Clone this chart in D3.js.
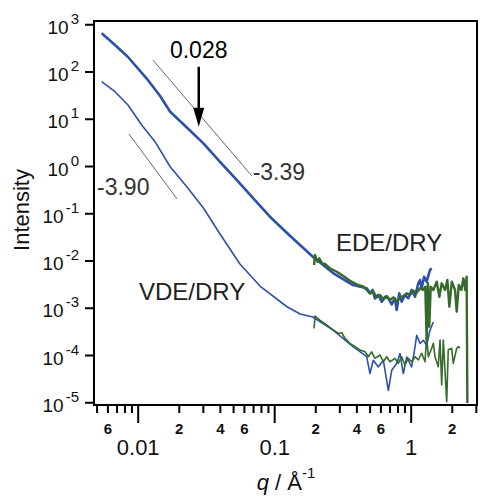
<!DOCTYPE html>
<html>
<head>
<meta charset="utf-8">
<script src="https://cdn.jsdelivr.net/npm/d3@7"></script>
<style>
  body { margin: 0; background: #fff; }
  svg text { font-family: Arial, "Liberation Sans", sans-serif; }
</style>
</head>
<body>
<div id="chart"></div>
<script>
// EDE/DRY, SAXS (blue) and USAXS/WAXS (green)
var edeSaxsQ = [0.00545, 0.00682, 0.00849, 0.0116, 0.0146, 0.0173, 0.0229, 0.0303, 0.0401, 0.0531,
  0.0703, 0.0931, 0.131, 0.192, 0.270, 0.378, 0.476, 0.503, 0.526, 0.547, 0.579, 0.614, 0.649, 0.686,
  0.726, 0.768, 0.789, 0.825, 0.859, 0.908, 0.960, 1.016, 1.076, 1.137, 1.170, 1.204, 1.253, 1.309,
  1.384, 1.425];
var edeSaxsI = [643, 364, 203, 71.8, 30.3, 14.1, 6.53, 3.02, 1.23, 0.506,
  0.207, 0.0845, 0.0330, 0.0120, 0.00543, 0.00303, 0.00258, 0.00202, 0.00238, 0.00158, 0.00186, 0.00134,
  0.00171, 0.00158, 0.00118, 0.00158, 0.000896, 0.00202, 0.00134, 0.00186, 0.00158, 0.00238, 0.00171,
  0.00329, 0.00387, 0.00258, 0.00454, 0.00356, 0.00629, 0.00684];

var edeWideQ = [0.196, 0.199, 0.207, 0.214, 0.224, 0.236, 0.256, 0.287, 0.321, 0.359, 0.402, 0.450,
  0.476, 0.503, 0.532, 0.564, 0.596, 0.630, 0.667, 0.705, 0.746, 0.789, 0.835, 0.883, 0.935, 0.988,
  1.045, 1.106, 1.170, 1.237, 1.279, 1.309, 1.337, 1.368, 1.402, 1.466, 1.552, 1.622, 1.687, 1.786,
  1.857, 1.919, 2.000, 2.113, 2.173, 2.249, 2.350, 2.432, 2.512, 2.570, 2.600];
var edeWideI = [8.03e-3, 1.31e-2, 9.44e-3, 1.11e-2, 8.73e-3, 8.43e-3, 6.84e-3, 5.79e-3, 4.70e-3, 3.73e-3,
  3.13e-3, 2.79e-3, 2.38e-3, 2.02e-3, 2.19e-3, 1.66e-3, 1.86e-3, 1.51e-3, 1.77e-3, 1.46e-3, 1.66e-3,
  1.34e-3, 1.66e-3, 1.77e-3, 2.02e-3, 1.86e-3, 2.30e-3, 2.08e-3, 2.58e-3, 2.38e-3, 2.79e-3, 2.08e-4,
  3.29e-3, 3.97e-4, 2.79e-3, 2.38e-3, 3.56e-3, 1.71e-3, 3.29e-3, 2.38e-3, 3.87e-3, 1.05e-3, 3.56e-3,
  2.38e-3, 8.24e-4, 3.03e-3, 2.38e-3, 4.20e-3, 2.38e-3, 4.54e-3, 9.6e-6];

// VDE/DRY
var vdeSaxsQ = [0.00545, 0.00682, 0.00849, 0.0107, 0.0134, 0.0173, 0.0229, 0.0303, 0.0401, 0.0561,
  0.0787, 0.124, 0.155, 0.192, 0.270, 0.378, 0.476, 0.503, 0.532, 0.579, 0.630, 0.686, 0.726, 0.789,
  0.835, 0.883, 0.935, 1.016, 1.076, 1.106, 1.170, 1.237, 1.309, 1.384, 1.466];
var vdeSaxsI = [60.8, 37.4, 19.5, 7.38, 3.27, 0.966, 0.365, 0.129, 0.0364, 0.00843,
  0.00288, 0.00105, 7.38e-4, 6.37e-4, 3.38e-4, 1.50e-4, 9.20e-5, 4.05e-5, 7.74e-5, 5.58e-5, 7.74e-5,
  1.79e-5, 4.75e-5, 6.59e-5, 1.07e-4, 4.05e-5, 9.10e-5, 5.58e-5, 1.48e-4, 2.62e-4, 1.75e-4, 2.05e-4,
  1.61e-4, 3.34e-4, 5.01e-4];

var vdeWideQ = [0.196, 0.199, 0.216, 0.242, 0.271, 0.295, 0.313, 0.330, 0.359, 0.391, 0.425, 0.463,
  0.489, 0.518, 0.547, 0.596, 0.630, 0.667, 0.705, 0.767, 0.811, 0.859, 0.908, 0.960, 1.017, 1.076,
  1.137, 1.204, 1.273, 1.309, 1.346, 1.425, 1.466, 1.506, 1.549, 1.592, 1.640, 1.687, 1.734, 1.836,
  1.884, 1.995, 2.051, 2.173, 2.234, 2.297];
var vdeWideI = [3.67e-4, 6.68e-4, 5.50e-4, 4.32e-4, 3.38e-4, 2.88e-4, 2.96e-4, 2.25e-4, 1.77e-4, 1.50e-4,
  1.28e-4, 1.17e-4, 9.20e-5, 1.17e-4, 8.51e-5, 1.00e-4, 7.21e-5, 9.20e-5, 7.21e-5, 8.51e-5, 6.67e-5,
  9.20e-5, 6.14e-5, 8.51e-5, 7.21e-5, 9.20e-5, 7.84e-5, 1.09e-4, 7.21e-5, 2.44e-4, 9.20e-5, 1.39e-4,
  1.77e-4, 9.20e-5, 7.21e-5, 5.65e-5, 2.08e-4, 2.32e-5, 2.08e-4, 1.03e-5, 1.28e-4, 1.39e-4, 6.67e-5,
  1.39e-4, 1.50e-4, 1.39e-4];

// power-law guide lines
var guideSlopes = [-3.39, -3.90];
var guideStartQ = [0.01294, 0.00863];
var guideStartI = [175, 4.76];
var guideEndQ = [0.0684, 0.0194];
var guideLabels = ["-3.39", "-3.90"];

// peak marker
var peakQ = 0.028;
var peakArrowI = [126, 6.8];

// axes
var yTickValues = [1e-5, 1e-4, 1e-3, 1e-2, 1e-1, 1, 10, 100, 1000];
var yTickExponents = ["-5", "-4", "-3", "-2", "-1", "0", "1", "2", "3"];
var xMajorTicks = [0.01, 0.1, 1];
var xMajorLabels = ["0.01", "0.1", "1"];
var xMinorTicks = [0.005, 0.006, 0.007, 0.008, 0.009, 0.02, 0.03, 0.04, 0.05, 0.06, 0.07, 0.08, 0.09,
  0.2, 0.3, 0.4, 0.5, 0.6, 0.7, 0.8, 0.9, 2, 3];
var xMinorLabels = { 0.006: "6", 0.02: "2", 0.04: "4", 0.06: "6", 0.2: "2", 0.4: "4", 0.6: "6", 2: "2" };

var width = 480,
  height = 500;
var plotLeft = 94,
  plotRight = 477,
  plotTop = 21,
  plotBottom = 405;

var svg = d3
  .select("#chart")
  .append("svg")
  .attr("width", width)
  .attr("height", height);

var x = d3.scaleLog().domain([0.004786, 3.06]).range([plotLeft, plotRight]);
var y = d3.scaleLog().domain([8.75e-6, 1172]).range([plotBottom, plotTop]);

function pairs(qs, is) {
  return qs.map(function(q, i) {
    return [q, is[i]];
  });
}

svg
  .append("clipPath")
  .attr("id", "plot-clip")
  .append("rect")
  .attr("x", plotLeft)
  .attr("y", plotTop)
  .attr("width", plotRight - plotLeft)
  .attr("height", plotBottom - plotTop);

var line = d3
  .line()
  .x(function(d) {
    return x(d[0]);
  })
  .y(function(d) {
    return y(d[1]);
  });

var plot = svg.append("g").attr("clip-path", "url(#plot-clip)");

var blue = "#2d50ac",
  green = "#356a2b";

var series = [
  { data: pairs(vdeSaxsQ, vdeSaxsI), color: blue, w: 1.6 },
  { data: pairs(edeSaxsQ, edeSaxsI), color: blue, w: 2.6 },
  { data: pairs(vdeWideQ, vdeWideI), color: green, w: 1.6 },
  { data: pairs(edeWideQ, edeWideI), color: green, w: 2.4 }
];

series.forEach(function(s) {
  plot
    .append("path")
    .datum(s.data)
    .attr("fill", "none")
    .attr("stroke", s.color)
    .attr("stroke-width", s.w)
    .attr("stroke-linejoin", "round")
    .attr("d", line);
});

// guide lines
guideSlopes.forEach(function(slope, i) {
  var q0 = guideStartQ[i],
    i0 = guideStartI[i],
    q1 = guideEndQ[i],
    i1 = i0 * Math.pow(q1 / q0, slope);
  svg
    .append("line")
    .attr("x1", x(q0))
    .attr("y1", y(i0))
    .attr("x2", x(q1))
    .attr("y2", y(i1))
    .attr("stroke", "#555")
    .attr("stroke-width", 0.9);
});

// x axis: minor ticks with small labels, then decades
svg
  .append("g")
  .attr("class", "x-minor")
  .attr("transform", "translate(0," + plotBottom + ")")
  .call(
    d3
      .axisBottom(x)
      .tickValues(xMinorTicks)
      .tickSize(8)
      .tickPadding(10)
      .tickFormat(function(d) {
        return xMinorLabels[d] || "";
      })
  );

svg
  .append("g")
  .attr("class", "x-major")
  .attr("transform", "translate(0," + plotBottom + ")")
  .call(
    d3
      .axisBottom(x)
      .tickValues(xMajorTicks)
      .tickSize(18)
      .tickPadding(16)
      .tickFormat(function(d, i) {
        return xMajorLabels[i];
      })
  );

svg.selectAll(".x-minor text").attr("font-size", 15).attr("font-weight", "bold");
svg.selectAll(".x-major text").attr("font-size", 22);

// y axis
var yAxis = svg
  .append("g")
  .attr("class", "y-axis")
  .attr("transform", "translate(" + plotLeft + ",0)")
  .call(
    d3
      .axisLeft(y)
      .tickValues(yTickValues)
      .tickSize(9)
      .tickPadding(6)
  );

yAxis.selectAll(".tick text").each(function(d, i) {
  var t = d3.select(this);
  t.text("").attr("dy", null).attr("y", 9).attr("font-size", 19);
  t.append("tspan").text("10");
  t.append("tspan")
    .attr("dx", 2)
    .attr("dy", -10)
    .attr("font-size", 15)
    .text(yTickExponents[i]);
});

svg.selectAll(".domain").remove();
svg.selectAll(".tick line").attr("stroke", "#000").attr("stroke-width", 2);
svg.selectAll(".tick text").attr("fill", "#111");

// frame
svg
  .append("path")
  .attr(
    "d",
    "M" + plotLeft + "," + plotTop + "H" + plotRight + "V" + plotBottom + "H" + plotLeft + "Z"
  )
  .attr("fill", "none")
  .attr("stroke", "#000")
  .attr("stroke-width", 2);

// axis titles
svg
  .append("text")
  .attr("transform", "translate(29,210) rotate(-90)")
  .attr("text-anchor", "middle")
  .attr("font-size", 22)
  .attr("fill", "#111")
  .text("Intensity");

var xTitle = svg
  .append("text")
  .attr("x", 286)
  .attr("y", 490)
  .attr("text-anchor", "middle")
  .attr("font-size", 22)
  .attr("fill", "#111");
xTitle.append("tspan").attr("font-style", "italic").text("q");
xTitle.append("tspan").text(" / Å");
xTitle
  .append("tspan")
  .attr("dy", -12)
  .attr("font-size", 15)
  .text("-1");

// annotations
svg
  .append("text")
  .attr("x", x(guideEndQ[0]) + 1)
  .attr("y", 180)
  .attr("font-size", 23)
  .attr("fill", "#333")
  .text(guideLabels[0]);

svg
  .append("text")
  .attr("x", 97)
  .attr("y", 195)
  .attr("font-size", 23)
  .attr("fill", "#333")
  .text(guideLabels[1]);

svg
  .append("text")
  .attr("x", 336)
  .attr("y", 251)
  .attr("font-size", 24)
  .attr("fill", "#222")
  .text("EDE/DRY");

svg
  .append("text")
  .attr("x", 139)
  .attr("y", 300)
  .attr("font-size", 24)
  .attr("fill", "#222")
  .text("VDE/DRY");

svg
  .append("text")
  .attr("x", x(peakQ))
  .attr("y", 58)
  .attr("text-anchor", "middle")
  .attr("font-size", 23)
  .attr("fill", "#000")
  .text(String(peakQ));

var ax = x(peakQ),
  ay0 = y(peakArrowI[0]),
  ay1 = y(peakArrowI[1]);
svg
  .append("line")
  .attr("x1", ax)
  .attr("y1", ay0)
  .attr("x2", ax)
  .attr("y2", ay1 - 16)
  .attr("stroke", "#000")
  .attr("stroke-width", 2.5);
svg
  .append("path")
  .attr(
    "d",
    "M" + (ax - 5.5) + "," + (ay1 - 19) + "L" + (ax + 5.5) + "," + (ay1 - 19) + "L" + ax + "," + ay1 + "Z"
  )
  .attr("fill", "#000");
</script>
</body>
</html>
